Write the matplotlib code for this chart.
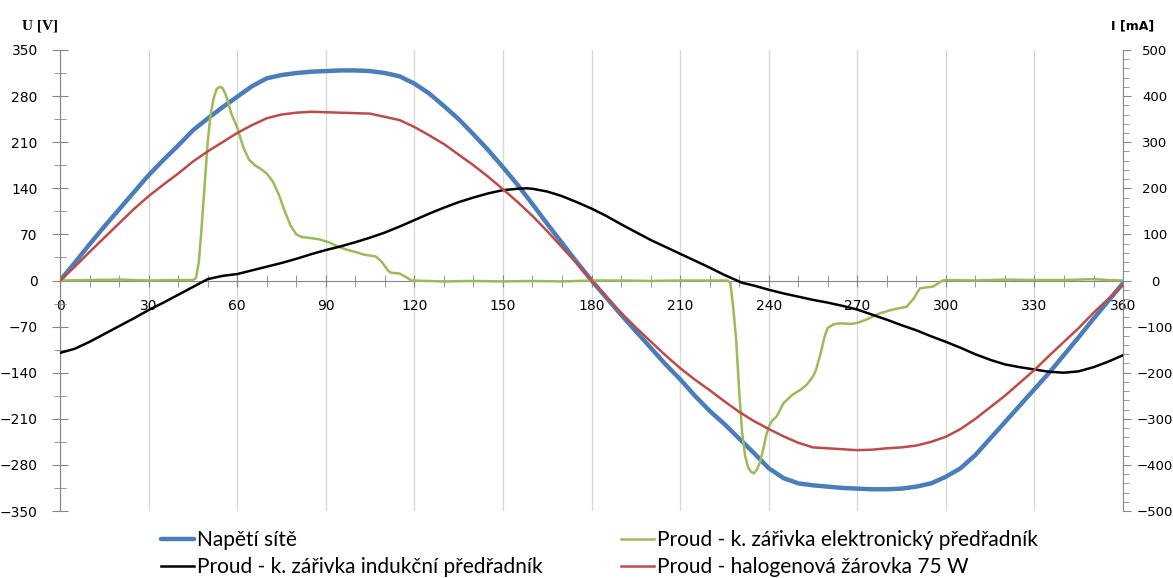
import matplotlib.pyplot as plt
import matplotlib.ticker as mticker

# Napětí sítě [V]
deg_u = [0, 5, 10, 15, 20, 25, 30, 35, 40, 45, 50, 55, 60, 65, 70, 75, 80, 85, 90, 95,
         100, 105, 110, 115, 120, 125, 130, 135, 140, 145, 150, 155, 160, 165, 170, 175,
         180, 185, 190, 195, 200, 205, 210, 215, 220, 225, 230, 235, 240, 245, 250, 255,
         260, 265, 270, 275, 280, 285, 290, 295, 300, 305, 310, 315, 320, 325, 330, 335,
         340, 345, 350, 355, 360]
napeti = [0, 27, 55, 82, 108, 134, 160, 183, 205, 228, 246, 263, 279, 295, 307, 312, 315, 317, 318, 319,
          319, 318, 315, 310, 299, 284, 265, 245, 222, 198, 172, 145, 116, 86, 57, 28,
          0, -26, -52, -77, -102, -127, -150, -175, -198, -218, -240, -262, -285, -300, -308, -311,
          -313, -315, -316, -317, -317, -316, -313, -308, -298, -285, -265, -240, -215, -190, -165, -140,
          -113, -86, -58, -31, -4]

# Proud - k. zářivka elektronický předřadník [mA]
deg_el = [0, 10, 20, 30, 40, 45, 46, 47, 48, 49, 50, 51, 52, 53, 54, 55, 56, 57, 58, 60,
          62, 64, 66, 68, 70, 72, 74, 76, 78, 80, 82, 85, 88, 91, 94, 97, 100, 103, 107,
          109, 111, 112, 115, 117, 119, 130, 140, 150, 160, 170, 180, 190, 200, 210, 220,
          226, 227, 228, 229, 230, 231, 232, 233, 234, 235, 236, 237, 238, 239, 240, 241,
          242.7, 245, 248, 251, 253, 255, 256, 257.5, 259, 260, 262, 264, 268, 270, 273,
          277.7, 282, 286.7, 289, 291.2, 295.7, 299, 300, 310, 320, 330, 340, 350, 355, 360]
elektronicky = [0, 1, 2, 0, 1, 1, 5, 40, 120, 210, 300, 360, 395, 415, 420, 418, 405, 385, 362, 332,
                290, 262, 250, 242, 232, 215, 188, 152, 120, 100, 94, 92, 89, 83, 74, 67, 62, 56, 52,
                40, 22, 17, 15, 8, 0, -2, -1, -2, -1, -2, 0, 0, -1, 0, 0,
                0, -5, -60, -130, -240, -330, -380, -405, -415, -418, -410, -395, -370, -340, -318, -305,
                -295, -266, -248, -236, -225, -208, -194, -160, -120, -103, -95, -93, -94, -92, -85,
                -71, -63, -57, -40, -17, -13, 0, 1, 0, 2, 1, 1, 3, 1, 0]

# Proud - k. zářivka indukční předřadník [mA]
deg_ind = [0, 5, 10, 15, 20, 25, 30, 35, 40, 45, 50, 55, 60, 65, 70, 75, 80, 85, 90, 95,
           100, 105, 110, 115, 120, 125, 130, 135, 140, 145, 150, 155, 158, 160, 165, 170,
           175, 180, 185, 190, 195, 200, 205, 210, 215, 220, 225, 231, 235, 240, 245, 250,
           255, 260, 265, 270, 275, 280, 285, 290, 295, 300, 305, 310, 315, 320, 325, 330,
           335, 340, 345, 350, 355, 360]
indukcni = [-157, -148, -133, -116, -99, -82, -64, -48, -31, -14, 3, 10, 14, 22, 30, 38, 47, 57, 66, 74,
            83, 93, 104, 117, 131, 145, 158, 170, 180, 189, 196, 199, 200, 199, 193, 183,
            170, 156, 140, 122, 105, 88, 73, 58, 43, 28, 12, -5, -11, -20, -28, -35,
            -42, -48, -55, -63, -74, -85, -97, -108, -121, -133, -146, -160, -172, -182, -188, -193,
            -198, -200, -197, -188, -176, -162]

# Proud - halogenová žárovka 75 W [mA]
deg_hal = deg_u
halogen = [0, 30, 62, 93, 124, 155, 183, 208, 232, 258, 280, 300, 320, 337, 352, 360, 364, 366, 365, 364,
           363, 362, 355, 348, 333, 315, 296, 273, 250, 225, 198, 170, 140, 107, 72, 37,
           0, -35, -70, -102, -132, -162, -190, -215, -238, -262, -285, -305, -322, -338, -352, -362,
           -364, -366, -368, -367, -364, -362, -358, -350, -339, -322, -300, -275, -250, -222, -194, -163,
           -133, -103, -70, -40, -10]

grey = '#868686'

fig = plt.figure(figsize=(11.73, 5.78), dpi=100)
ax = fig.add_axes([0.0512, 0.1159, 0.9062, 0.7976])
ax2 = ax.twinx()

l_u, = ax.plot(deg_u, napeti, color='#4A7EBB', lw=3.2, solid_capstyle='round', label='Napětí sítě')
l_el, = ax2.plot(deg_el, elektronicky, color='#9BBB59', lw=1.8,
                 label='Proud - k. zářivka elektronický předřadník')
l_ind, = ax2.plot(deg_ind, indukcni, color='black', lw=1.8,
                  label='Proud - k. zářivka indukční předřadník')
l_hal, = ax2.plot(deg_hal, halogen, color='#BE4B48', lw=1.8,
                  label='Proud - halogenová žárovka 75 W')

ax.set_xlim(0, 360)
ax.set_ylim(-350, 350)
ax2.set_ylim(-500, 500)

# x axis through zero
ax.spines['bottom'].set_position(('data', 0))
ax.spines['top'].set_visible(False)
ax.spines['right'].set_visible(False)
for s in ['top', 'bottom', 'left']:
    ax2.spines[s].set_visible(False)
ax.spines['bottom'].set_color(grey)
ax.spines['left'].set_color(grey)
ax2.spines['right'].set_color(grey)

ax.xaxis.set_major_locator(mticker.MultipleLocator(30))
ax.xaxis.set_minor_locator(mticker.MultipleLocator(10))
ax.yaxis.set_major_locator(mticker.MultipleLocator(70))
ax.yaxis.set_minor_locator(mticker.MultipleLocator(35))
ax2.yaxis.set_major_locator(mticker.MultipleLocator(100))
ax2.yaxis.set_minor_locator(mticker.MultipleLocator(20))

ax.tick_params(axis='x', which='both', direction='inout', color=grey, labelsize=10, pad=9, length=8)
ax.tick_params(axis='y', which='major', direction='inout', length=12, color=grey, labelsize=10, pad=10)
ax.tick_params(axis='y', which='minor', direction='inout', length=8, color=grey)
ax2.tick_params(axis='y', which='major', direction='out', length=6, color=grey, labelsize=9.5, pad=17)
ax2.tick_params(axis='y', which='minor', direction='out', length=4, color=grey)
for t in ax2.get_yticklabels():
    t.set_horizontalalignment('center')

ax.grid(axis='x', which='major', color='#D9D9D9', lw=1)
ax.set_axisbelow(True)

fig.text(0.019, 0.955, 'U [V]', fontsize=11, fontweight='bold', family='Liberation Serif',
         ha='left', va='center')
fig.text(0.984, 0.955, 'I [mA]', fontsize=9, fontweight='bold', ha='right', va='center')

handles = [l_u, l_ind, l_el, l_hal]
fig.legend(handles=handles, labels=[h.get_label() for h in handles], ncol=2,
           loc='upper left', bbox_to_anchor=(0.137, 0.083), frameon=False,
           prop={'family': 'Lato', 'size': 15}, handlelength=1.6, handletextpad=0.15,
           columnspacing=3.75, labelspacing=0.35, borderpad=0, borderaxespad=0)

fig.savefig('out.png', dpi=100)
